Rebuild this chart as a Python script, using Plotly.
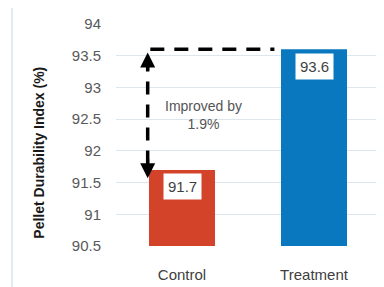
import plotly.graph_objects as go

categories = ["Control", "Treatment"]
values = [91.7, 93.6]
bar_colors = ["#D2432A", "#0A78BF"]
value_labels = ["91.7", "93.6"]
y_ticks = [90.5, 91, 91.5, 92, 92.5, 93, 93.5, 94]
y_tick_labels = ["90.5", "91", "91.5", "92", "92.5", "93", "93.5", "94"]
improvement_text = "Improved by<br>1.9%"

FONT = "Liberation Sans, Arial, sans-serif"

fig = go.Figure()
fig.add_trace(go.Bar(
    x=categories, y=values, marker=dict(color=bar_colors, line=dict(width=0)),
    hoverinfo="skip"
))

annotations = []
for c, v, t in zip(categories, values, value_labels):
    annotations.append(dict(
        x=c, y=v, xref="x", yref="y", text=t, showarrow=False,
        yshift=-17, bgcolor="white", borderpad=4,
        font=dict(family=FONT, size=15, color="#3f3f3f")
    ))

# improvement text
annotations.append(dict(
    x=0.16, y=92.56, xref="x", yref="y", text=improvement_text, showarrow=False,
    font=dict(family=FONT, size=14, color="#555555"), align="center"
))

# arrow heads
annotations.append(dict(
    x=-0.26, y=values[1] - 0.05, ax=-0.26, ay=values[1] - 0.35, xref="x", yref="y",
    axref="x", ayref="y", text="", showarrow=True, arrowhead=2, arrowsize=1,
    arrowwidth=3, arrowcolor="black"
))
annotations.append(dict(
    x=-0.26, y=values[0] - 0.13, ax=-0.26, ay=values[0] + 0.2, xref="x", yref="y",
    axref="x", ayref="y", text="", showarrow=True, arrowhead=2, arrowsize=1,
    arrowwidth=3, arrowcolor="black"
))

# y axis title
annotations.append(dict(
    x=-0.33, y=0.42, xref="paper", yref="paper", text="Pellet Durability Index (%)",
    textangle=-90, showarrow=False,
    font=dict(family=FONT, size=14, color="#1a1a1a", weight="bold")
))

shapes = [
    dict(type="line", xref="x", yref="y", x0=-0.26, x1=-0.26,
         y0=values[0] + 0.1, y1=values[1] - 0.25,
         line=dict(color="black", width=3.5, dash="13px,10px")),
    dict(type="line", xref="x", yref="y", x0=-0.24, x1=0.7,
         y0=values[1], y1=values[1],
         line=dict(color="black", width=3.5, dash="14px,10px")),
    # frame
    dict(type="line", xref="paper", yref="paper", x0=-0.394, x1=-0.394, y0=-0.3, y1=1.08,
         line=dict(color="#D8E3EC", width=1.5)),
]

fig.update_layout(
    width=376, height=279,
    margin=dict(l=108, r=4, t=16, b=39),
    paper_bgcolor="white", plot_bgcolor="white",
    bargap=0.5, showlegend=False,
    annotations=annotations, shapes=shapes,
    xaxis=dict(
        showgrid=False, showline=False, zeroline=False, ticks="",
        tickfont=dict(family=FONT, size=15, color="#404040"),
        ticklabelstandoff=18
    ),
    yaxis=dict(
        range=[90.5, 94], tickvals=y_ticks, ticktext=y_tick_labels,
        showgrid=True, gridcolor="#DCE6EE", gridwidth=1.2,
        zeroline=False, showline=False, ticks="",
        tickfont=dict(family=FONT, size=15, color="#595959"),
        ticklabelstandoff=14
    ),
)

fig.write_html("out.html")
